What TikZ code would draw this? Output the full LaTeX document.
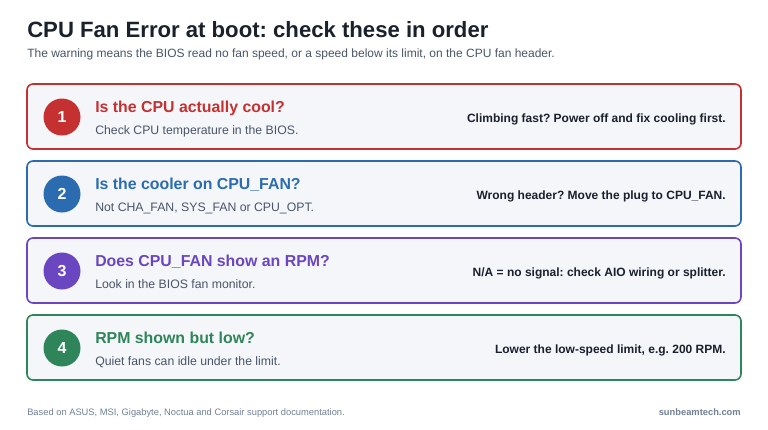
\documentclass[tikz,border=0pt]{standalone}
\usepackage{xcolor}
\usepackage{fontspec}
\setmainfont{Liberation Sans}
\usepackage{tikz}
\usetikzlibrary{positioning}
\definecolor{inkdark}{HTML}{1A202C}
\definecolor{inkgray}{HTML}{4A5568}
\definecolor{inklight}{HTML}{718096}
\definecolor{cardfill}{HTML}{F4F6FA}
\definecolor{stepred}{HTML}{C53030}
\definecolor{stepblue}{HTML}{2B6CB0}
\definecolor{steppurple}{HTML}{6B46C1}
\definecolor{stepgreen}{HTML}{2F855A}
\frenchspacing

\begin{document}
\begin{tikzpicture}[x=0.75pt, y=-0.75pt,
  card/.style={draw=#1, line width=1.2pt, fill=cardfill, rounded corners=4.5pt,
               minimum width=535.5pt, minimum height=48.75pt, inner sep=0pt},
  badge/.style={circle, fill=#1, minimum size=27.75pt, inner sep=0pt,
                text=white, font=\fontsize{12}{14}\selectfont\bfseries},
  heading/.style={anchor=base west, inner sep=0pt, text=#1,
                  font=\fontsize{11.9}{14}\selectfont\bfseries},
  hint/.style={anchor=base west, inner sep=0pt, text=inkgray,
               font=\fontsize{9.2}{11}\selectfont},
  action/.style={anchor=base east, inner sep=0pt, text=inkdark,
                 font=\fontsize{9.0}{11}\selectfont\bfseries}
]
\useasboundingbox[fill=white] (0,0) rectangle (768,429);

% title
\node[anchor=base west, inner sep=0pt, text=inkdark, font=\fontsize{16.6}{19}\selectfont\bfseries]
  (title) at (27,37) {CPU Fan Error at boot: check these in order};
\node[anchor=base west, inner sep=0pt, text=inkgray, font=\fontsize{9}{11}\selectfont]
  (subtitle) at (27,57.5) {The warning means the BIOS read no fan speed, or a speed below its limit, on the CPU fan header.};

% step 1
\node[card=stepred] (c1) at (384,116.5) {};
\node[badge=stepred] (b1) at (62,117) {1};
\node[heading=stepred] (h1) at (95,112) {Is the CPU actually cool?};
\node[hint] (t1) at (95,134) {Check CPU temperature in the BIOS.};
\node[action] (a1) at (726,122) {Climbing fast? Power off and fix cooling first.};

% step 2
\node[card=stepblue] (c2) at (384,193.5) {};
\node[badge=stepblue] (b2) at (62,194) {2};
\node[heading=stepblue] (h2) at (95,189) {Is the cooler on CPU\_FAN?};
\node[hint] (t2) at (95,211) {Not CHA\_FAN, SYS\_FAN or CPU\_OPT.};
\node[action] (a2) at (726,199) {Wrong header? Move the plug to CPU\_FAN.};

% step 3
\node[card=steppurple] (c3) at (384,270.5) {};
\node[badge=steppurple] (b3) at (62,271) {3};
\node[heading=steppurple] (h3) at (95,266) {Does CPU\_FAN show an RPM?};
\node[hint] (t3) at (95,288) {Look in the BIOS fan monitor.};
\node[action] (a3) at (726,276) {N/A = no signal: check AIO wiring or splitter.};

% step 4
\node[card=stepgreen] (c4) at (384,347.5) {};
\node[badge=stepgreen] (b4) at (62,348) {4};
\node[heading=stepgreen] (h4) at (95,343) {RPM shown but low?};
\node[hint] (t4) at (95,365) {Quiet fans can idle under the limit.};
\node[action] (a4) at (726,353) {Lower the low-speed limit, e.g. 200 RPM.};

% footer
\node[anchor=base west, inner sep=0pt, text=inklight, font=\fontsize{7}{8}\selectfont]
  (source) at (27,415) {Based on ASUS, MSI, Gigabyte, Noctua and Corsair support documentation.};
\node[anchor=base east, inner sep=0pt, text=inklight, font=\fontsize{7}{8}\selectfont\bfseries]
  (site) at (741,415) {sunbeamtech.com};
\end{tikzpicture}
\end{document}
